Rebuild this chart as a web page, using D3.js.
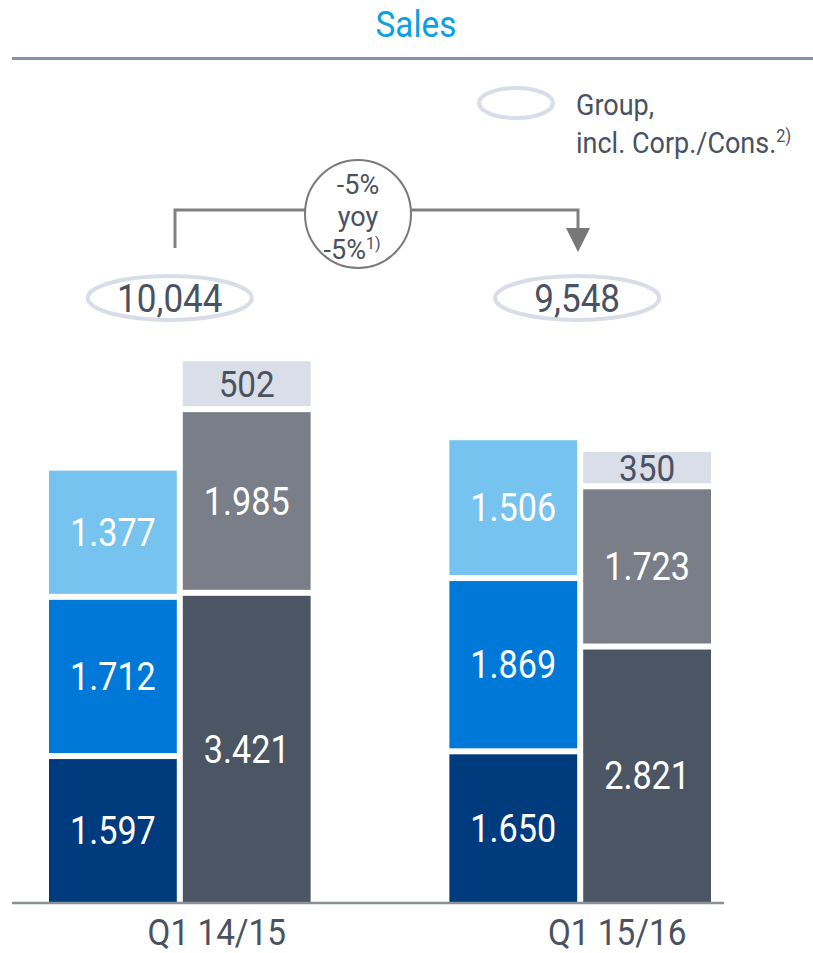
<!DOCTYPE html>
<html>
<head>
<meta charset="utf-8">
<script src="https://cdn.jsdelivr.net/npm/d3@7"></script>
<style>
  html, body { margin: 0; padding: 0; background: #ffffff; }
  svg { display: block; font-family: Roboto, "Noto Sans", sans-serif; }
</style>
</head>
<body>
<svg id="chart" width="813" height="953"></svg>
<script>
// ---------------- data ----------------
const categories = ["Q1 14/15", "Q1 15/16"];
// left bar of each pair (bottom -> top)
const leftBottom = [1.597, 1.650];
const leftMiddle = [1.712, 1.869];
const leftTop    = [1.377, 1.506];
// right bar of each pair (bottom -> top)
const rightBottom = [3.421, 2.821];
const rightMiddle = [1.985, 1.723];
const rightTop    = [0.502, 0.350];
// group totals
const totals = [10044, 9548];
const yoyLines = ["-5%", "yoy", "-5%"];
const yoyFootnote = "1)";
const legendLines = ["Group,", "incl. Corp./Cons."];
const legendFootnote = "2)";
const titleText = "Sales";

// ---------------- layout ----------------
const svg = d3.select("#chart");
const baseY = 902;
const gap = 6;
const textDark = "#4a5262";

const x = d3.scaleBand().domain(categories).range([49, 711]).paddingInner(0.3466).paddingOuter(0);
const xSub = d3.scaleBand().domain(["left", "right"]).range([0, x.bandwidth()]).paddingInner(0.045);
const y = d3.scaleLinear().domain([0, 6]).range([baseY, baseY - 6 * 89.5]);

const leftColors  = ["#003b7d", "#0078d8", "#75c3ee"];
const rightColors = ["#4b5563", "#7a7e89", "#d9dee8"];

// condensed text helper
function ctext(px, py, size, fill, anchor, sx) {
  return svg.append("text")
    .attr("transform", `translate(${px},${py}) scale(${sx},1)`)
    .attr("text-anchor", anchor).attr("font-size", size).attr("fill", fill);
}

// title
ctext(416, 37, 37, "#0aa0e6", "middle", 0.9).text(titleText);
svg.append("line").attr("x1", 12).attr("x2", 813).attr("y1", 58.5).attr("y2", 58.5)
  .attr("stroke", "#8794a5").attr("stroke-width", 3);

// legend
svg.append("ellipse").attr("cx", 516).attr("cy", 103).attr("rx", 37).attr("ry", 15)
  .attr("fill", "none").attr("stroke", "#d9dde8").attr("stroke-width", 4);
ctext(576, 115, 30, textDark, "start", 0.9).text(legendLines[0]);
const lg2 = ctext(576, 153, 30, textDark, "start", 0.9);
lg2.append("tspan").text(legendLines[1]);
lg2.append("tspan").attr("font-size", 18).attr("dy", -11).text(legendFootnote);

// stacked bars
function stack(vals, colors, key, isRightBar) {
  categories.forEach((c, ci) => {
    let cum = 0;
    vals.forEach((arr, si) => {
      const v = arr[ci];
      const yb = y(cum) - gap * si;
      const yt = y(cum + v) - gap * si;
      cum += v;
      const bx = x(c) + xSub(key);
      svg.append("rect").attr("x", bx).attr("y", yt).attr("width", xSub.bandwidth())
        .attr("height", yb - yt).attr("fill", colors[si]);
      const isBox = isRightBar && si === 2;
      const label = isBox ? d3.format("d")(Math.round(v * 1000)) : d3.format(".3f")(v);
      ctext(bx + xSub.bandwidth() / 2, (yb + yt) / 2, isBox ? 37 : 38,
            isBox ? textDark : "#ffffff", "middle", 0.9)
        .attr("dy", "0.36em").text(label);
    });
  });
}
stack([leftBottom, leftMiddle, leftTop], leftColors, "left", false);
stack([rightBottom, rightMiddle, rightTop], rightColors, "right", true);

// baseline
svg.append("line").attr("x1", 12).attr("x2", 724).attr("y1", baseY + 1).attr("y2", baseY + 1)
  .attr("stroke", "#8a8f99").attr("stroke-width", 2.5);

// category labels
categories.forEach(c => {
  ctext(x(c) + x.bandwidth() / 2 + 37, 945, 37, textDark, "middle", 0.9).text(c);
});

// totals ellipses
const fmtTotal = d3.format(",");
categories.forEach((c, i) => {
  const cx = x(c) + xSub("left") + xSub.bandwidth() + (i === 0 ? -7 : 0);
  svg.append("ellipse").attr("cx", cx).attr("cy", 298).attr("rx", 82).attr("ry", 22)
    .attr("fill", "none").attr("stroke", "#d9dde8").attr("stroke-width", 4);
  ctext(cx, 312, 39, textDark, "middle", 0.9).text(fmtTotal(totals[i]));
});

// yoy bracket
const leftX = 175, rightX = 578, lineY = 210, circX = 358, circY = 214, circR = 53;
svg.append("path").attr("d", `M${leftX},248 V${lineY} H${circX - circR}`)
  .attr("fill", "none").attr("stroke", "#808080").attr("stroke-width", 3);
svg.append("path").attr("d", `M${circX + circR},${lineY} H${rightX} V230`)
  .attr("fill", "none").attr("stroke", "#808080").attr("stroke-width", 3);
svg.append("path").attr("d", `M${rightX - 12},228 L${rightX + 12},228 L${rightX},252 Z`).attr("fill", "#777777");
svg.append("ellipse").attr("cx", circX).attr("cy", circY).attr("rx", circR).attr("ry", 54)
  .attr("fill", "#ffffff").attr("stroke", "#7a7a7a").attr("stroke-width", 2);
const yoyY = [194, 226, 259];
yoyLines.forEach((t, i) => {
  const tx = svg.append("text").attr("x", circX + (i === 2 ? -6 : 0)).attr("y", yoyY[i])
    .attr("text-anchor", "middle").attr("font-size", 27).attr("fill", textDark);
  tx.append("tspan").text(t);
  if (i === 2) tx.append("tspan").attr("font-size", 16).attr("dy", -10).text(yoyFootnote);
});
</script>
</body>
</html>
